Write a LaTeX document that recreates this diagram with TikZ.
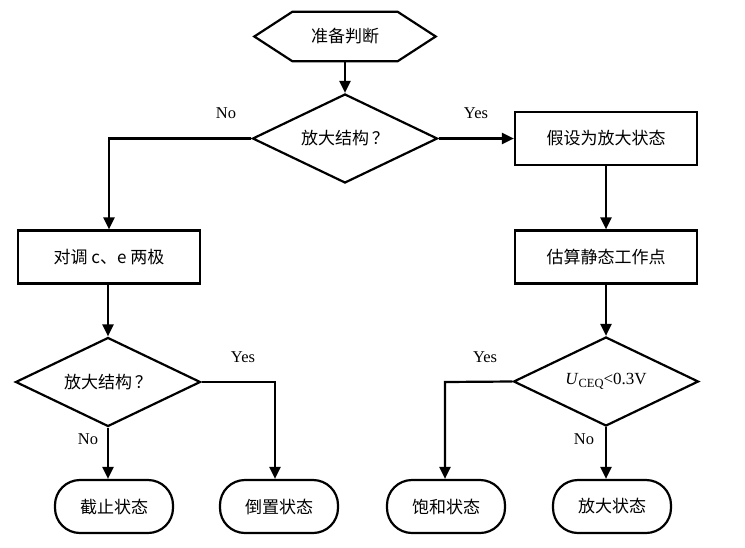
\documentclass[tikz,border=0pt]{standalone}
\usepackage{fontspec}
\setmainfont{Liberation Serif}
\newfontfamily\cjk{Noto Sans CJK SC}
\usetikzlibrary{shapes.geometric,arrows.meta}
\begin{document}
\begin{tikzpicture}[x=1pt,y=-1pt,
  every node/.style={inner sep=0pt},
  cn/.style={font=\cjk\fontsize{17}{20}\selectfont},
  proc/.style={cn,draw,line width=2.2pt,minimum width=182pt,minimum height=53pt},
  dec/.style={cn,draw,line width=2.2pt,diamond,aspect=2.1,minimum width=185pt,minimum height=89pt},
  term/.style={cn,draw,line width=2.2pt,rounded corners=25pt,minimum width=118pt,minimum height=53pt},
  lab/.style={font=\fontsize{16.5}{19}\selectfont},
  arr/.style={line width=2.2pt,-{Triangle[length=12pt,width=11pt]}}]
\useasboundingbox (0,0) rectangle (745,547);
% start hexagon
\node[cn,minimum width=181pt,minimum height=49pt] (start) at (345,36.5) {准备判断};
\draw[line width=2.2pt,line join=miter] ([xshift=38pt]start.north west) -- ([xshift=-38pt]start.north east) -- (start.east) -- ([xshift=-38pt]start.south east) -- ([xshift=38pt]start.south west) -- (start.west) -- cycle;
\node[dec] (d1) at (345,138.5) {放大结构\hspace{3pt}？};
\node[proc] (b1) at (606,138.5) {假设为放大状态};
\node[proc] (b3) at (606,257) {估算静态工作点};
\node[proc] (b2) at (109,257) {对调 c、e 两极};
\node[dec] (d3) at (108,382) {放大结构\hspace{3pt}？};
\node[dec,font=\fontsize{17}{20}\selectfont] (d2) at (606,381.5) {\textit{U}\raisebox{-0.35ex}{\fontsize{12.5}{14}\selectfont CEQ}<0.3V};
\node[term] (t1) at (114,506.5) {截止状态};
\node[term] (t2) at (279,506.5) {倒置状态};
\node[term] (t3) at (446,506.5) {饱和状态};
\node[term] (t4) at (612,506.5) {放大状态};
% connectors
\draw[arr] (start) -- (d1);
\draw[arr] (d1.east) -- (b1.west);
\draw[arr] (d1.west) -| (b2.north);
\draw[arr] (b1) -- (b3);
\draw[arr] (b2.south) -- (b2.south -| d3.north) -- (d3.north);
\draw[arr] (b3) -- (d2);
\coordinate (c3) at (275,382);
\draw[arr] (d3.east) -- (c3) -- (c3 |- t2.north);
\draw[arr] (d3.south) -- (d3.south |- t1.north);
\coordinate (c2) at (445,382);
\draw[arr] (d2.west) -- (c2) -- (c2 |- t3.north);
\draw[arr] (d2.south) -- (d2.south |- t4.north);
% labels
\node[lab] (l1) at (226,113) {No};
\node[lab] (l2) at (476,113) {Yes};
\node[lab] (l3) at (243,357) {Yes};
\node[lab] (l4) at (88,439) {No};
\node[lab] (l5) at (485,357) {Yes};
\node[lab] (l6) at (584,439) {No};
\end{tikzpicture}
\end{document}
